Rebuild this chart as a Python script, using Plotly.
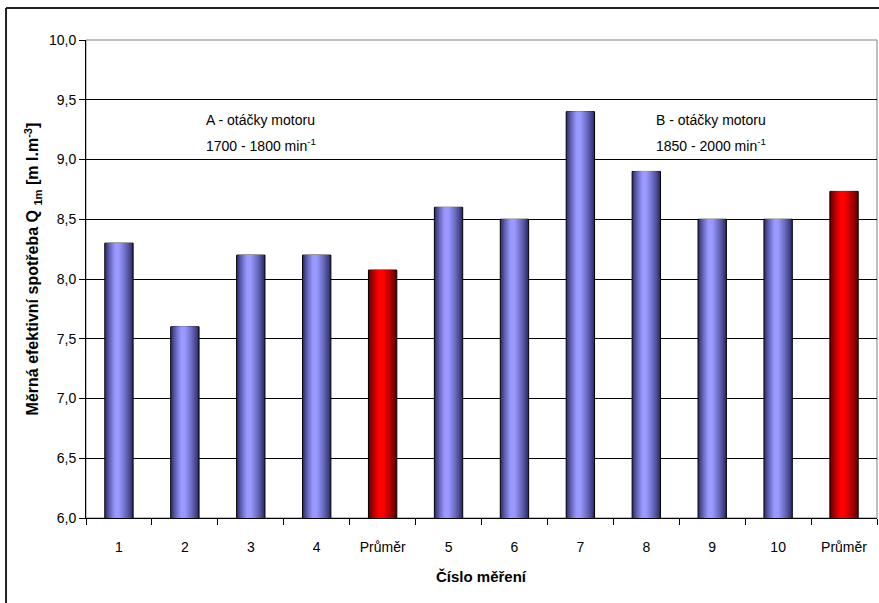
import plotly.graph_objects as go

# Measured specific fuel consumption per run, plus group averages
labels = ["1", "2", "3", "4", "Průměr", "5", "6", "7", "8", "9", "10", "Průměr"]
values = [8.3, 7.6, 8.2, 8.2, 8.075, 8.6, 8.5, 9.4, 8.9, 8.5, 8.5, 8.733]
is_avg = [False, False, False, False, True, False, False, False, False, False, False, True]

W, H = 879, 603
L, R, T, B = 86, 2, 40, 85

x_pos = list(range(len(labels)))
bar_w = 0.43
n_layers = 14


def lerp(c1, c2, t):
    return "rgb({},{},{})".format(*[round(a + (b - a) * t) for a, b in zip(c1, c2)])


blue_edge, blue_mid = (40, 40, 100), (153, 153, 255)
red_edge, red_mid = (90, 0, 0), (255, 0, 0)

fig = go.Figure()

# Cylinder-style shading: stacked overlaid bars, narrowing towards a bright band
for k in range(n_layers):
    t = k / n_layers
    left = -bar_w / 2 + t * 0.38 * bar_w
    right = bar_w / 2 - t * 0.52 * bar_w
    shade = min(1.0, (k / (n_layers - 1)) ** 0.8)
    colors = [lerp(red_edge, red_mid, shade) if a else lerp(blue_edge, blue_mid, shade)
              for a in is_avg]
    fig.add_trace(go.Bar(
        x=x_pos, y=values,
        width=right - left, offset=left,
        marker=dict(color=colors,
                    line=dict(color="black", width=1 if k == 0 else 0)),
        showlegend=False, hoverinfo="skip",
    ))

# Boundary ticks on an overlaid axis
fig.add_trace(go.Scatter(x=[None], y=[None], xaxis="x2", showlegend=False,
                         hoverinfo="skip"))

font = "Liberation Sans Narrow, Arial Narrow, Liberation Sans, sans-serif"
bold_font = "Liberation Sans, Arial, sans-serif"

fig.update_layout(
    width=W, height=H,
    margin=dict(l=L, r=R, t=T, b=B),
    paper_bgcolor="white", plot_bgcolor="white",
    barmode="overlay",
    separators=", ",
    font=dict(family=font, size=14, color="black"),
    xaxis=dict(
        range=[-0.5, len(labels) - 0.5],
        tickvals=x_pos, ticktext=labels,
        ticks="", showgrid=False, zeroline=False,
        showline=True, linecolor="black", linewidth=1,
        tickfont=dict(size=14), ticklabelstandoff=16,
        fixedrange=True,
    ),
    xaxis2=dict(
        overlaying="x", side="bottom",
        range=[-0.5, len(labels) - 0.5],
        tickvals=[i - 0.5 for i in range(len(labels) + 1)],
        ticks="outside", ticklen=6, tickcolor="black", tickwidth=1,
        showticklabels=False, showgrid=False, zeroline=False,
        showline=False,
    ),
    yaxis=dict(
        range=[6.0, 10.0], dtick=0.5, tick0=6.0, tickformat=".1f",
        ticks="outside", ticklen=6, tickcolor="black",
        showgrid=True, gridcolor="black", gridwidth=1,
        showline=True, linecolor="black", linewidth=1,
        zeroline=False, tickfont=dict(size=14),
    ),
    shapes=[
        # gray plot-area frame
        dict(type="rect", xref="paper", yref="paper", x0=0, x1=1, y0=0, y1=1,
             line=dict(color="#808080", width=1), layer="below"),
        # outer chart frame
        dict(type="line", xref="paper", yref="paper",
             x0=-0.1011, x1=1.05, y0=1.0669, y1=1.0669,
             line=dict(color="#222222", width=2)),
        dict(type="line", xref="paper", yref="paper",
             x0=-0.1011, x1=-0.1011, y0=1.0669, y1=-0.3,
             line=dict(color="#222222", width=2)),
    ],
    annotations=[
        dict(text="A - otáčky motoru", x=2.15, y=9.33, xref="x", yref="y",
             showarrow=False, font=dict(size=14)),
        dict(text="1700 - 1800 min<sup>-1</sup>", x=2.15, y=9.12, xref="x", yref="y",
             showarrow=False, font=dict(size=14)),
        dict(text="B - otáčky motoru", x=8.98, y=9.33, xref="x", yref="y",
             showarrow=False, font=dict(size=14)),
        dict(text="1850 - 2000 min<sup>-1</sup>", x=8.98, y=9.12, xref="x", yref="y",
             showarrow=False, font=dict(size=14)),
        dict(text="<b>Číslo měření</b>", x=0.5, y=-0.123, xref="paper", yref="paper",
             yanchor="middle", showarrow=False, font=dict(size=15)),
        dict(text="<b>Měrná efektivní spotřeba Q <sub>1m</sub> [m l.m<sup>-3</sup>]</b>",
             x=-0.067, y=0.52, xref="paper", yref="paper", textangle=-90,
             xanchor="center", yanchor="middle",
             showarrow=False, font=dict(family=bold_font, size=16)),
    ],
)

fig.write_html("out.html")
